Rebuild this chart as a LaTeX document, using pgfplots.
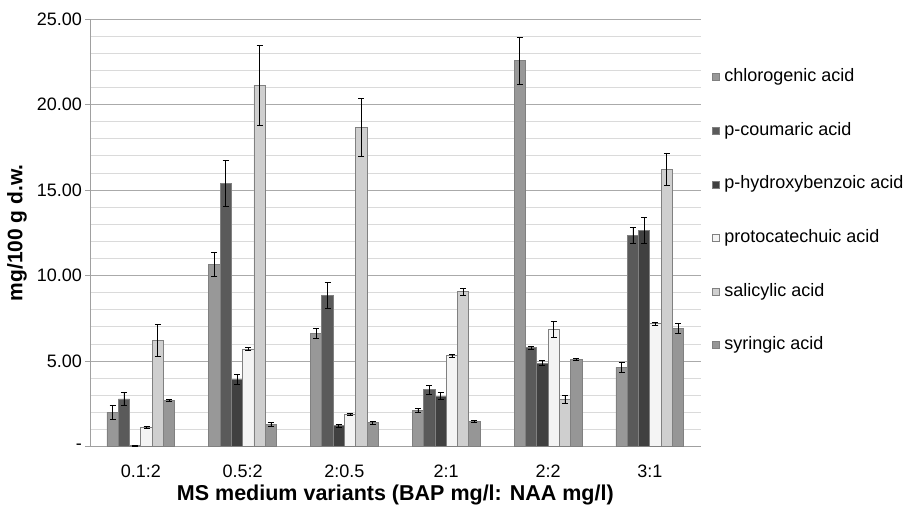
\documentclass[border=0pt]{standalone}
\usepackage{fontspec}
\setmainfont{Liberation Sans}
\usepackage{pgfplots}
\pgfplotsset{compat=1.18}

\definecolor{cChl}{RGB}{152,152,152}
\definecolor{cCou}{RGB}{90,90,90}
\definecolor{cHyd}{RGB}{64,64,64}
\definecolor{cPro}{RGB}{244,244,244}
\definecolor{cSal}{RGB}{207,207,207}
\definecolor{cSyr}{RGB}{150,150,150}
\definecolor{barEdge}{RGB}{128,128,128}
\definecolor{majGrid}{RGB}{170,170,170}
\definecolor{minGrid}{RGB}{218,218,218}
\definecolor{axisGray}{RGB}{160,160,160}

% x, mean, error (mg/100 g d.w.)
\pgfplotstableread{
x y e
0 2.01 0.40
1 10.67 0.70
2 6.63 0.30
3 2.13 0.10
4 22.57 1.37
5 4.64 0.30
}\chl
\pgfplotstableread{
x y e
0 2.79 0.37
1 15.40 1.35
2 8.83 0.76
3 3.32 0.25
4 5.79 0.10
5 12.36 0.45
}\cou
\pgfplotstableread{
x y e
0 0.05 0.02
1 3.94 0.27
2 1.23 0.08
3 2.96 0.20
4 4.88 0.15
5 12.65 0.76
}\hyd
\pgfplotstableread{
x y e
0 1.11 0.06
1 5.70 0.08
2 1.89 0.08
3 5.32 0.07
4 6.87 0.45
5 7.19 0.10
}\pro
\pgfplotstableread{
x y e
0 6.22 0.95
1 21.13 2.34
2 18.65 1.70
3 9.06 0.20
4 2.77 0.25
5 16.22 0.95
}\sal
\pgfplotstableread{
x y e
0 2.71 0.06
1 1.31 0.10
2 1.40 0.10
3 1.48 0.07
4 5.11 0.05
5 6.92 0.30
}\syr

\begin{document}
\begin{tikzpicture}[x=1bp,y=1bp]
\useasboundingbox (-90,-63.3) rectangle (820,446.7);
\begin{axis}[
  at={(0,0)}, anchor=south west,
  width=610.7bp, height=427.7bp, scale only axis,
  font=\fontsize{18bp}{21bp}\selectfont,
  ybar=0pt, bar width=11.3bp,
  xmin=-0.5, xmax=5.5, ymin=0, ymax=25,
  xtick={0,...,5},
  xticklabels={0.1:2,0.5:2,2:0.5,2:1,2:2,3:1},
  xtick style={draw=none},
  xticklabel style={anchor=center, yshift=-19.3bp},
  ytick={0,5,...,25},
  yticklabels={-,5.00,10.00,15.00,20.00,25.00},
  minor ytick={1,2,3,4,6,7,8,9,11,12,13,14,16,17,18,19,21,22,23,24},
  ymajorgrids, yminorgrids,
  major grid style={majGrid, line width=0.9bp},
  minor grid style={minGrid, line width=0.9bp},
  tick align=outside,
  major tick length=5bp, minor tick length=0bp,
  ytick style={axisGray, line width=0.9bp},
  yticklabel style={inner sep=0pt, xshift=-3bp},
  axis x line*=bottom, axis y line*=left,
  axis line style={axisGray, line width=0.9bp, -},
  xlabel={\bfseries MS medium variants (BAP mg/l: NAA mg/l)},
  xlabel style={at={(axis description cs:0.5,-0.1129)}, anchor=center, font=\fontsize{21.5bp}{24bp}\selectfont},
  ylabel={\bfseries mg/100 g d.w.},
  ylabel style={at={(axis description cs:-0.1195,0.5)}, anchor=center, rotate=0, font=\fontsize{21bp}{24bp}\selectfont},
  error bars/y dir=both, error bars/y explicit,
  error bars/error bar style={black, line width=0.7bp},
  error bars/error mark options={rotate=90, mark size=3bp, black, line width=0.7bp},
  legend cell align=left,
  legend style={at={(rel axis cs:1,1)}, anchor=north west, xshift=11bp, yshift=-49.5bp,
    draw=none, fill=none, inner sep=0pt, row sep=36.6bp,
    font=\fontsize{18bp}{21bp}\selectfont,
    nodes={inner sep=0pt, text height=13bp, text depth=4bp},
    /tikz/every odd column/.append style={column sep=5bp}},
  legend image code/.code={\draw[#1, draw=barEdge, line width=0.5bp] (0bp,-3.5bp) rectangle (7bp,3.5bp);},
]
\addplot[fill=cChl, draw=barEdge, line width=0.8bp] table[x=x, y=y, y error=e] {\chl};
\addplot[fill=cCou, draw=barEdge, line width=0.8bp] table[x=x, y=y, y error=e] {\cou};
\addplot[fill=cHyd, draw=barEdge, line width=0.8bp] table[x=x, y=y, y error=e] {\hyd};
\addplot[fill=cPro, draw=barEdge, line width=0.8bp] table[x=x, y=y, y error=e] {\pro};
\addplot[fill=cSal, draw=barEdge, line width=0.8bp] table[x=x, y=y, y error=e] {\sal};
\addplot[fill=cSyr, draw=barEdge, line width=0.8bp] table[x=x, y=y, y error=e] {\syr};
\legend{chlorogenic acid, p-coumaric acid, p-hydroxybenzoic acid, protocatechuic acid, salicylic acid, syringic acid}
\end{axis}
\end{tikzpicture}
\end{document}
